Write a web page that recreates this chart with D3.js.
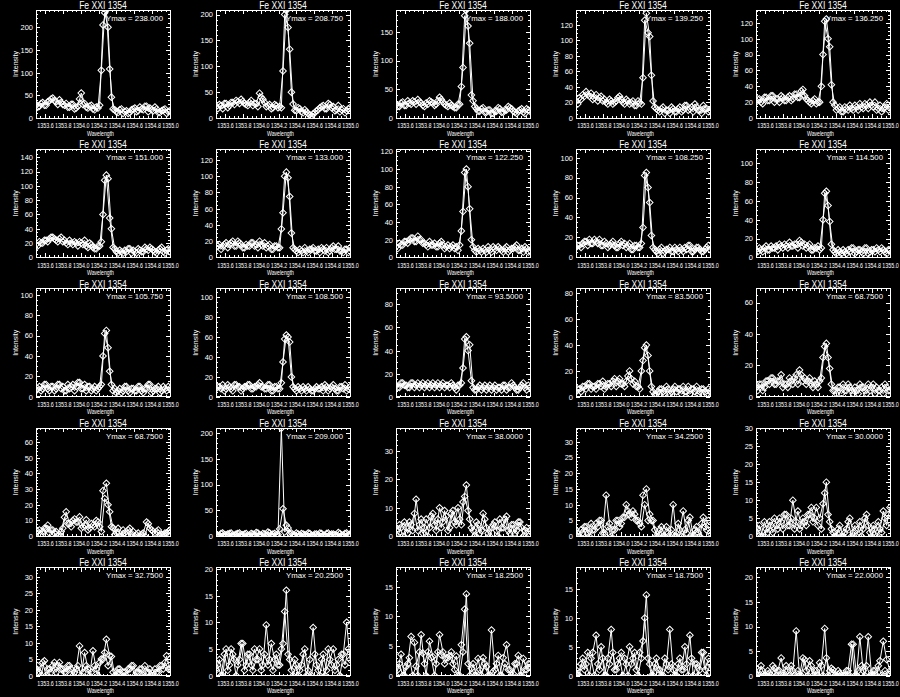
<!DOCTYPE html>
<html>
<head>
<meta charset="utf-8">
<script src="https://cdn.jsdelivr.net/npm/d3@7"></script>
<style>
  html, body { margin: 0; padding: 0; background: #000; }
  svg { display: block; background: #000; }
  text { fill: #fff; font-family: "Liberation Sans", Arial, sans-serif; }
</style>
</head>
<body>
<svg id="chart" width="900" height="697"></svg>
<script>
// wavelength sampling of the two overlaid spectra (Angstrom)
const waveA = [1353.5000,1353.5375,1353.5750,1353.6125,1353.6500,1353.6875,1353.7250,1353.7625,1353.8000,1353.8375,
  1353.8750,1353.9125,1353.9500,1353.9875,1354.0250,1354.0625,1354.1000,1354.1375,1354.1750,1354.2125,
  1354.2500,1354.2875,1354.3250,1354.3625,1354.4000,1354.4375,1354.4750,1354.5125,1354.5500,1354.5875,
  1354.6250,1354.6625,1354.7000,1354.7375,1354.7750,1354.8125,1354.8500,1354.8875,1354.9250,1354.9625,
  1355.0000];
const waveB = [1353.5190,1353.5565,1353.5940,1353.6315,1353.6690,1353.7065,1353.7440,1353.7815,1353.8190,1353.8565,
  1353.8940,1353.9315,1353.9690,1354.0065,1354.0440,1354.0815,1354.1190,1354.1565,1354.1940,1354.2315,
  1354.2690,1354.3065,1354.3440,1354.3815,1354.4190,1354.4565,1354.4940,1354.5315,1354.5690,1354.6065,
  1354.6440,1354.6815,1354.7190,1354.7565,1354.7940,1354.8315,1354.8690,1354.9065,1354.9440,1354.9815];

const xTickValues = [1353.6, 1353.8, 1354.0, 1354.2, 1354.4, 1354.6, 1354.8, 1355.0];

// "Ymax" printed in each panel (row by row), also the top of the y range
const ymaxValues = [238.0, 208.75, 188.0, 139.25, 136.25,
                    151.0, 133.0, 122.25, 108.25, 114.5,
                    105.75, 108.5, 93.5, 83.5, 68.75,
                    68.75, 209.0, 38.0, 34.25, 30.0,
                    32.75, 20.25, 18.25, 18.75, 22.0];
// major y tick interval of each panel
const yTickStep = [50, 50, 50, 20, 20,
                   20, 20, 20, 20, 20,
                   20, 20, 20, 20, 20,
                   10, 50, 10, 5, 5,
                   5, 5, 5, 5, 5];

// intensities, spectrum A on waveA, spectrum B on waveB
const r1c1A = [30,26,34,28,38,44,36,40,30,32, 24,30,22,42,30,24,26,20,24,28, 205,238,108,20,14,18,10,16,12,20, 14,24,18,26,22,16,20,12,18,10, 16];
const r1c1B = [24,32,28,36,42,38,30,34,28,24, 30,20,26,55,32,22,28,18,22,105, 232,200,46,18,12,20,14,10,18,22, 16,20,26,14,18,24,12,16,20,14];
const r1c2A = [22,26,18,28,24,30,34,28,32,26, 30,24,28,48,36,22,26,20,24,22, 91,208,133,27,14,18,10,12,6,8, 14,20,24,18,26,22,16,12,18,14, 20];
const r1c2B = [18,24,28,20,30,26,32,36,28,24, 34,28,22,40,30,24,18,26,20,20, 200,175,50,15,20,12,16,8,4,10, 16,22,18,28,20,14,24,16,10,18];
const r1c3A = [24,20,28,22,26,30,24,28,22,26, 30,26,24,36,28,22,26,20,18,24, 88,188,130,30,16,12,18,10,14,8, 12,16,10,14,18,12,8,14,10,16, 12];
const r1c3B = [20,26,22,30,24,28,32,26,20,24, 28,22,30,32,24,20,22,18,24,55, 178,160,40,20,12,16,10,14,8,12, 18,10,14,20,16,10,12,16,8,14];
const r1c4A = [22,26,30,34,28,24,30,26,22,20, 24,18,22,28,20,24,18,22,16,20, 52,135,105,22,12,8,14,10,6,12, 8,14,10,16,12,8,14,10,16,12, 10];
const r1c4B = [18,24,28,30,32,26,22,28,24,18, 22,20,26,24,18,22,20,16,22,18, 126,110,55,14,10,12,6,10,14,8, 12,8,16,10,14,18,10,6,12,8];
const r1c5A = [20,24,18,26,22,28,24,20,26,22, 28,24,30,26,36,24,20,22,18,20, 80,125,90,20,10,14,8,12,16,10, 14,18,12,16,20,14,10,16,12,18, 14];
const r1c5B = [24,20,26,22,28,20,24,28,22,26, 22,30,26,34,28,22,18,24,20,40, 122,100,42,16,12,8,14,10,12,16, 10,14,18,12,16,20,12,8,14,10];

const r2c1A = [18,22,20,24,26,28,24,26,22,20, 24,18,20,22,18,16,20,14,12,16, 60,115,55,14,8,10,6,8,12,10, 6,10,8,12,14,10,6,12,8,10, 8];
const r2c1B = [16,20,24,22,28,26,22,28,24,18, 20,22,16,20,24,14,18,12,16,22, 108,110,40,12,6,8,10,12,6,8, 12,8,14,10,12,8,10,14,6,12];
const r2c2A = [12,16,14,18,16,20,14,18,12,16, 14,18,16,20,14,12,16,10,14,12, 55,105,75,12,8,10,6,8,10,12, 8,6,10,12,8,14,10,8,6,10, 12];
const r2c2B = [14,10,16,12,18,14,20,16,12,14, 18,14,12,16,18,14,10,14,12,35, 100,98,30,10,6,8,12,6,10,8, 10,12,8,6,12,10,14,8,10,6];
const r2c3A = [12,16,14,18,20,22,18,20,16,14, 18,14,12,16,14,12,10,14,12,14, 52,100,55,12,6,8,10,6,8,12, 8,10,6,12,8,10,14,8,6,10, 8];
const r2c3B = [10,14,18,16,22,18,24,20,16,12, 14,16,12,18,10,14,12,10,8,30, 96,80,20,8,10,6,8,12,6,10, 12,8,10,6,10,12,8,10,12,6];
const r2c4A = [10,12,14,16,18,14,16,18,12,14, 12,16,10,14,12,10,14,8,12,10, 30,85,55,10,6,8,4,8,10,6, 8,10,6,8,12,6,10,8,6,10, 8];
const r2c4B = [12,10,16,12,14,18,14,12,16,10, 14,12,10,16,14,12,8,12,10,14, 82,70,22,8,4,10,6,8,6,10, 6,8,10,12,6,8,10,6,8,12];
const r2c5A = [8,10,6,12,8,10,12,14,10,12, 16,12,14,18,12,10,14,8,10,8, 40,70,38,8,4,6,8,4,6,10, 6,8,4,10,6,8,10,6,8,4, 8];
const r2c5B = [6,8,10,8,12,10,8,12,14,10, 12,14,10,16,14,12,8,10,12,10, 68,55,14,6,8,4,6,8,10,4, 8,6,10,4,8,6,8,10,6,8];

const r3c1A = [6,10,8,12,6,10,8,12,10,6, 8,12,10,14,8,6,10,8,6,10, 40,65,25,6,4,8,6,10,4,8, 6,10,4,8,12,6,8,4,10,6, 8];
const r3c1B = [8,6,12,8,10,6,12,8,6,12, 10,6,14,8,12,10,6,10,8,12, 62,48,12,8,6,4,10,6,8,6, 10,6,8,12,4,8,10,6,8,10];
const r3c2A = [8,10,12,8,10,6,12,10,8,10, 12,8,10,14,10,8,12,6,10,8, 35,62,55,10,6,8,10,6,8,6, 10,8,6,10,8,12,6,10,8,6, 10];
const r3c2B = [10,8,6,12,8,12,10,6,10,12, 8,10,12,10,8,12,6,10,8,14, 58,60,20,8,10,6,8,10,6,8, 8,10,12,6,10,8,6,10,12,8];
const r3c3A = [10,8,12,10,8,12,10,8,12,10, 8,12,10,8,12,10,8,10,6,10, 25,52,45,8,6,10,8,6,10,8, 6,8,10,6,8,10,6,8,12,6, 8];
const r3c3B = [8,12,10,8,12,8,12,10,8,12, 10,8,12,10,8,10,12,8,10,12, 50,40,14,6,8,6,10,8,6,10, 8,6,10,8,12,8,6,10,8,10];
const r3c4A = [4,6,8,6,10,8,6,10,12,8, 10,12,8,14,10,12,20,10,8,6, 28,40,20,4,2,6,4,8,2,6, 4,6,8,4,2,6,8,4,6,2, 4];
const r3c4B = [6,4,8,10,6,8,10,8,6,10, 8,14,12,10,8,16,14,12,8,20, 38,32,8,2,4,6,2,6,4,8, 6,2,4,8,6,4,2,6,4,6];
const r3c5A = [6,8,4,10,8,12,8,10,6,8, 12,8,14,17,10,8,12,6,8,10, 25,34,18,4,2,6,8,4,6,2, 4,8,6,2,4,8,6,4,2,6, 4];
const r3c5B = [4,8,6,10,12,8,10,14,8,6, 10,12,8,14,12,10,8,10,6,12, 32,25,8,4,6,2,4,8,4,6, 2,6,4,8,6,2,4,6,8,4];

const r4c1A = [2,4,3,5,2,4,3,1,5,15.5, 8,10,9,12.3,6,10.4,5,7,10,6, 29,33.7,15.5,5.3,2,0,4,1,5,3, 1,0,2,9,5,3,3,0,1,2, 4];
const r4c1B = [3,1,5,7,4,2,0,3,12,8, 6,11,9,5,7,4,8,6,9,3, 24,20,6,1,5,0,2,4,1,0, 2,1,0,8,4,2,4,1,2,3];
const r4c2A = [4,2,6,3,5,2,4,6,3,5, 2,4,7,3,5,2,6,4,3,14, 53,21,5,3,6,2,4,3,5,2, 4,6,2,5,3,4,2,5,3,6, 4];
const r4c2B = [2,5,3,4,6,2,5,3,4,2, 5,3,6,2,4,8,3,5,3,209, 8,16,6,2,4,5,3,6,2,4, 3,5,2,6,4,3,7,2,5,3];
const r4c3A = [2,4,0,3,5,2,13,4,1,6, 3,8,2,10,5,7,3,9,4,6, 12,18,6,2,5,1,8,3,0,4, 2,6,3,7,1,4,2,5,0,3, 2];
const r4c3B = [0,3,5,1,4,8,2,6,3,0, 7,4,6,3,9,2,8,5,10,4, 14,9,3,0,4,2,6,1,3,5, 0,3,6,2,4,1,5,3,2,0];
const r4c4A = [2,0,1,3,0,2,4,5,1,13, 4,2,5,3,6,10,7,8,5,4, 13,15,7,5,0,2,0,3,0,10, 0,2,8,1,6,0,3,0,6,2, 1];
const r4c4B = [0,2,3,1,4,2,3,5,1,3, 0,2,5,4,6,8,6,7,5,3, 10,5,5,2,0,3,0,1,2,0, 4,0,2,5,0,2,1,4,3,5];
const r4c5A = [1,3,0,2,4,1,3,5,2,6, 3,10,4,2,5,3,6,4,8,5, 9,15,4,1,0,3,0,2,5,1, 0,4,2,6,1,3,0,2,7,3, 8];
const r4c5B = [2,0,4,1,3,5,2,4,6,3, 5,2,7,3,4,6,8,5,3,2, 12,6,2,0,2,0,1,4,0,3, 2,0,5,3,0,2,4,1,5,6];

const r5c1A = [2,1,4,0,2,3,1,4,2,1, 3,0,2,9,1,3,0,7.5,2,4, 5,11,6,1,0,2,1,0,2,3, 1,2,0,1,2,0,1,3,2,6, 2];
const r5c1B = [3,0,4.5,2,1,4,3,2,1,3, 2,1,3,0,7,2,1,3,0,5, 7,3,5.8,0,2,0,1,2,3,0, 1,2,3,1,0,2,1,3,4,2];
const r5c2A = [1,3,0,5,2,4,0,3,6,2, 4,1,3,5,2,9.5,3,1,4,2, 6,16,3,0,2,1,4,0,3,9, 2,0,4,1,3,5,2,0,4,10, 3];
const r5c2B = [2,0,4,1,5,3,2,6,1,4, 2,5,3,1,4,2,6,3,2,5, 12,4,1,3,0,2,5,1,0,4, 1,3,0,5,2,1,3,4,2,5];
const r5c3A = [0,2,0,1.5,3,0,1.6,4,3.8,0, 5.8,3.2,2,6.9,4,3,3.3,2,3.3,0, 4,13.8,0,2,0,1,3,1.5,0,0.7, 2,0,3,5.2,1,0.3,2,0,2.9,1, 2];
const r5c3B = [1,3.6,0,2,6.6,5.6,0,6.9,2,4, 3,0,4,3.5,2,3,4,1,0,5.2, 11.2,2,1.2,0,2.9,0,2,0,7.7,1, 3.4,0,2,1,0,2,3.4,0,1,2];
const r5c4A = [1,0,3,2,0,4,7,1,3,0, 2,4,1,3,0,2,5,3,1,4, 6,14,2,0,3,1,0,2,8,1, 0,3,1,2,7,0,2,1,4,0, 2];
const r5c4B = [0,2,1,4,3,0,2,5,0,3, 8,1,2,4,3,0,2,4,0,3, 10,3,0,2,1,0,3,1,2,0, 2,1,5,0,3,2,0,4,1,3];
const r5c5A = [1.6,0,1,0,0.5,2,0,1,0,2, 0,1,9.1,0,3.6,1,3,0,1,2.6, 0,3.6,1,1.2,0,0.5,0,1,0,6.4, 0,7.9,1,2,0,1,0,3,7,3.3, 1];
const r5c5B = [0,2,0,1,0,1.5,1,3.6,0,1, 2,0,1,0,3.3,0,2,1,0,2, 9.6,0,1.5,0,1,0,0,1,6.4,0, 1,2,0,7.9,0,1,2,0,1,0];

const panelSpectra = [
  [r1c1A, r1c1B], [r1c2A, r1c2B], [r1c3A, r1c3B], [r1c4A, r1c4B], [r1c5A, r1c5B],
  [r2c1A, r2c1B], [r2c2A, r2c2B], [r2c3A, r2c3B], [r2c4A, r2c4B], [r2c5A, r2c5B],
  [r3c1A, r3c1B], [r3c2A, r3c2B], [r3c3A, r3c3B], [r3c4A, r3c4B], [r3c5A, r3c5B],
  [r4c1A, r4c1B], [r4c2A, r4c2B], [r4c3A, r4c3B], [r4c4A, r4c4B], [r4c5A, r4c5B],
  [r5c1A, r5c1B], [r5c2A, r5c2B], [r5c3A, r5c3B], [r5c4A, r5c4B], [r5c5A, r5c5B]
];

const svg = d3.select('#chart');
const panelW = 180, panelH = 697 / 5;
const box = { left: 36, right: 170, top: 10, bottom: 118 };
const fmtY = d3.format('.6r');
const diamond = d3.symbol(d3.symbolSquare, 22)();

panelSpectra.forEach((spectra, i) => {
  const col = i % 5, row = Math.floor(i / 5);
  const g = svg.append('g')
    .attr('transform', `translate(${col * panelW},${(row * panelH).toFixed(1)})`);

  const ymax = ymaxValues[i];
  const step = yTickStep[i];
  const x = d3.scaleLinear().domain([1353.5, 1355.0]).range([box.left, box.right]);
  const y = d3.scaleLinear().domain([0, ymax]).range([box.bottom, box.top]);

  // clip to plot window
  g.append('clipPath').attr('id', 'clip' + i)
    .append('rect')
    .attr('x', box.left).attr('y', box.top)
    .attr('width', box.right - box.left).attr('height', box.bottom - box.top);

  // spectra
  const plot = g.append('g').attr('clip-path', `url(#clip${i})`);
  [[spectra[0], waveA], [spectra[1], waveB]].forEach(([vals, wave]) => {
    const line = d3.line().x((d, k) => x(wave[k])).y(d => y(d));
    plot.append('path')
      .attr('d', line(vals))
      .attr('fill', 'none')
      .attr('stroke', '#fff')
      .attr('stroke-width', 1);
    plot.selectAll(null)
      .data(vals)
      .join('path')
      .attr('d', diamond)
      .attr('transform', (d, k) => `translate(${x(wave[k])},${y(d)}) rotate(45)`)
      .attr('fill', 'none')
      .attr('stroke', '#fff')
      .attr('stroke-width', 1);
  });

  // ticks
  const minorN = step === 20 ? 4 : 5;
  const yMajor = d3.range(0, ymax + 1e-6, step);
  const yMinor = d3.range(0, ymax + 1e-6, step / minorN);
  const xMinor = d3.range(1353.5, 1355.0 + 1e-6, 0.05);

  const axes = g.append('g').attr('color', '#fff');
  const clean = s => s.select('.domain').remove();

  axes.append('g').attr('transform', `translate(0,${box.bottom})`)
    .call(d3.axisBottom(x).tickValues(xMinor).tickSizeInner(-2).tickSizeOuter(0).tickFormat(''))
    .call(clean);
  const xAxis = axes.append('g').attr('transform', `translate(0,${box.bottom})`)
    .call(d3.axisBottom(x).tickValues(xTickValues).tickSizeInner(-4).tickSizeOuter(0)
      .tickPadding(5).tickFormat(d3.format('.1f')))
    .call(clean);
  // narrow the crowded wavelength labels like the original vector font
  xAxis.selectAll('text')
    .attr('font-size', 7.3)
    .attr('transform', 'scale(0.74,1)');

  axes.append('g').attr('transform', `translate(0,${box.top})`)
    .call(d3.axisTop(x).tickValues(xMinor).tickSizeInner(-2).tickSizeOuter(0).tickFormat(''))
    .call(clean);
  axes.append('g').attr('transform', `translate(0,${box.top})`)
    .call(d3.axisTop(x).tickValues(xTickValues).tickSizeInner(-4).tickSizeOuter(0).tickFormat(''))
    .call(clean);

  axes.append('g').attr('transform', `translate(${box.left},0)`)
    .call(d3.axisLeft(y).tickValues(yMinor).tickSizeInner(-2).tickSizeOuter(0).tickFormat(''))
    .call(clean);
  const yAxis = axes.append('g').attr('transform', `translate(${box.left},0)`)
    .call(d3.axisLeft(y).tickValues(yMajor).tickSizeInner(-4).tickSizeOuter(0)
      .tickPadding(3).tickFormat(d3.format('d')))
    .call(clean);
  yAxis.selectAll('text').attr('font-size', 7.5);

  axes.append('g').attr('transform', `translate(${box.right},0)`)
    .call(d3.axisRight(y).tickValues(yMinor).tickSizeInner(-2).tickSizeOuter(0).tickFormat(''))
    .call(clean);
  axes.append('g').attr('transform', `translate(${box.right},0)`)
    .call(d3.axisRight(y).tickValues(yMajor).tickSizeInner(-4).tickSizeOuter(0).tickFormat(''))
    .call(clean);

  axes.selectAll('line').attr('shape-rendering', 'crispEdges');

  g.append('rect')
    .attr('x', box.left).attr('y', box.top)
    .attr('width', box.right - box.left).attr('height', box.bottom - box.top)
    .attr('fill', 'none').attr('stroke', '#fff').attr('stroke-width', 1)
    .attr('shape-rendering', 'crispEdges');

  // titles
  g.append('text')
    .attr('transform', `translate(${(box.left + box.right) / 2},8.7) scale(0.86,1)`)
    .attr('text-anchor', 'middle')
    .attr('font-size', 10)
    .text('Fe XXI 1354');

  g.append('text')
    .attr('x', 163).attr('y', 20.7)
    .attr('text-anchor', 'end')
    .attr('font-size', 7.8)
    .text('Ymax = ' + fmtY(ymax));

  g.append('text')
    .attr('transform', 'translate(100.5,135.5) scale(0.78,1)')
    .attr('text-anchor', 'middle')
    .attr('font-size', 6.6)
    .text('Wavelength');

  g.append('text')
    .attr('transform', `translate(18,${(box.top + box.bottom) / 2}) rotate(-90)`)
    .attr('text-anchor', 'middle')
    .attr('font-size', 7)
    .text('Intensity');
});
</script>
</body>
</html>
